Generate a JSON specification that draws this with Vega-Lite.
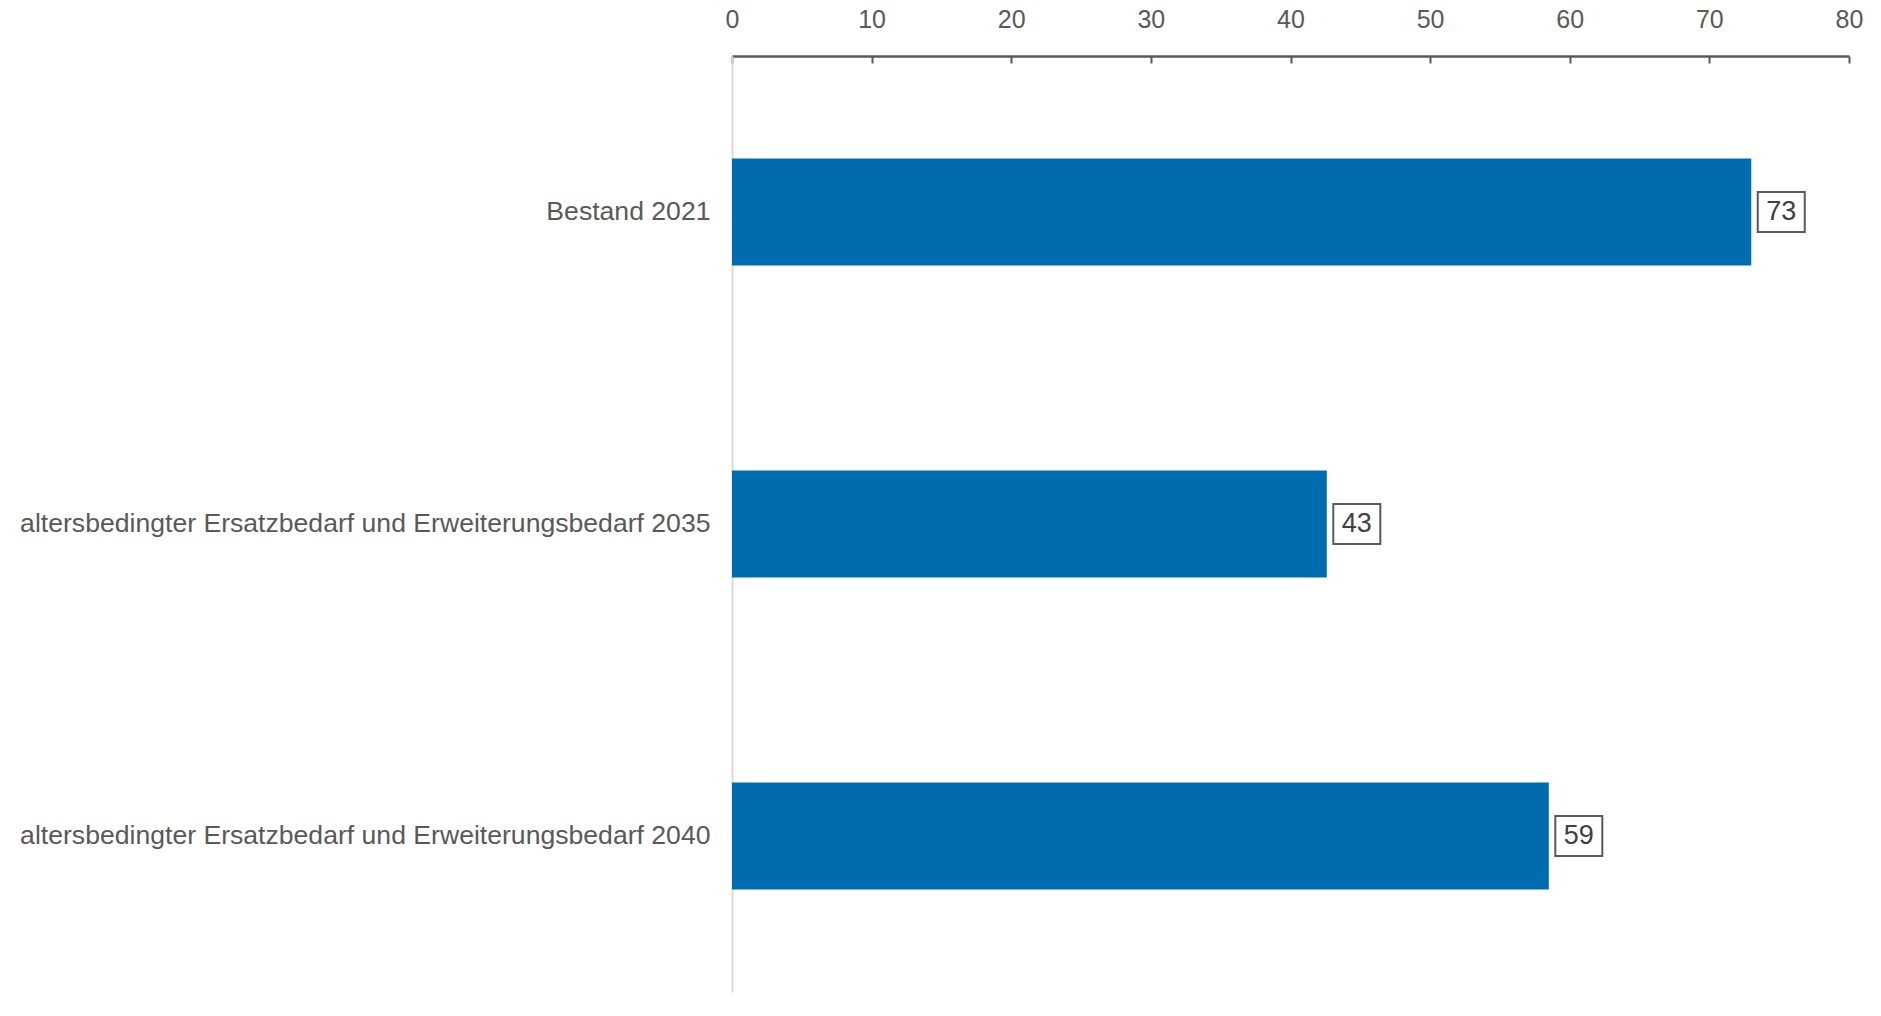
{
  "$schema": "https://vega.github.io/schema/vega-lite/v6.json",
  "width": 1117,
  "height": 936,
  "autosize": "none",
  "padding": {"left": 732, "top": 56, "right": 32, "bottom": 24},
  "background": "white",
  "config": {"view": {"stroke": null}, "font": "Liberation Sans"},
  "data": {
    "values": [
      {"kategorie": "Bestand 2021", "wert": 73.0, "label": "73"},
      {"kategorie": "altersbedingter Ersatzbedarf und Erweiterungsbedarf 2035", "wert": 42.6, "label": "43"},
      {"kategorie": "altersbedingter Ersatzbedarf und Erweiterungsbedarf 2040", "wert": 58.5, "label": "59"}
    ]
  },
  "encoding": {
    "y": {
      "field": "kategorie",
      "type": "nominal",
      "sort": null,
      "title": null,
      "scale": {"paddingInner": 0.657, "paddingOuter": 0.3285},
      "axis": {
        "ticks": false,
        "domainColor": "#d9d9d9",
        "domainWidth": 2,
        "labelFont": "Liberation Sans",
        "labelFontSize": 26.6,
        "labelColor": "#595959",
        "labelPadding": 22,
        "labelLimit": 0
      }
    },
    "x": {
      "field": "wert",
      "type": "quantitative",
      "title": null,
      "scale": {"domain": [0, 80], "nice": false, "zero": true},
      "axis": {
        "orient": "top",
        "values": [0, 10, 20, 30, 40, 50, 60, 70, 80],
        "grid": false,
        "domainColor": "#595959",
        "domainWidth": 2.5,
        "tickColor": "#595959",
        "tickWidth": 2,
        "tickSize": -7,
        "labelPadding": 31,
        "labelFont": "Liberation Sans",
        "labelFontSize": 25,
        "labelColor": "#595959",
        "labelFlush": false
      }
    }
  },
  "layer": [
    {"mark": {"type": "bar", "color": "#006CB0"}},
    {
      "mark": {
        "type": "point",
        "shape": "M-1.175,-1L1.175,-1L1.175,1L-1.175,1Z",
        "size": 1600,
        "filled": false,
        "fill": "white",
        "fillOpacity": 1,
        "stroke": "#595959",
        "strokeWidth": 2,
        "opacity": 1,
        "xOffset": 30
      }
    },
    {
      "mark": {
        "type": "text",
        "dx": 30,
        "align": "center",
        "baseline": "middle",
        "fontSize": 27,
        "color": "#404040",
        "font": "Liberation Sans"
      },
      "encoding": {"text": {"field": "label"}}
    }
  ]
}
